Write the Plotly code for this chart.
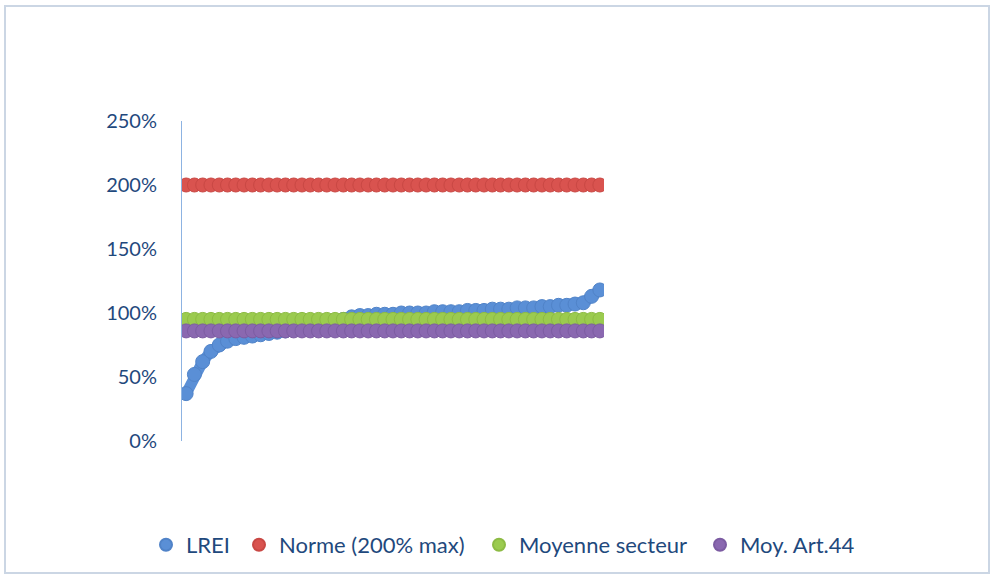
import plotly.graph_objects as go

# ---- data (values in %) ----
n_points = 51
categories = list(range(1, n_points + 1))
lrei = [37, 52, 62, 70, 75, 78, 80, 81, 82, 83,
        84, 85, 86, 87, 88, 89, 90, 92, 94, 95,
        97, 98, 98, 99, 99, 99, 100, 100, 100, 100,
        101, 101, 101, 101, 102, 102, 102, 103, 103, 103,
        104, 104, 104, 105, 105, 106, 106, 107, 108, 113, 118]
norme = [200] * n_points
moyenne_secteur = [95] * n_points
moy_art44 = [86] * n_points

series_names = ["LREI", "Norme (200% max)", "Moyenne secteur", "Moy. Art.44"]
series_values = [lrei, norme, moyenne_secteur, moy_art44]
series_colors = ["#5A8FD6", "#D9534F", "#9BCB4F", "#8A68B0"]
edge_colors = ["#5083C8", "#C94844", "#8DBB44", "#7C5CA2"]
legend_marker_px = [175, 268, 508, 729]
y_ticks = [0, 50, 100, 150, 200, 250]
y_tick_labels = [f"{v}%" for v in y_ticks]

W, H = 992, 576
L, R, T, B = 182, 388, 121, 135
pw, ph = W - L - R, H - T - B

fig = go.Figure()
legend_ids = ["legend", "legend2", "legend3", "legend4"]
for name, vals, col, ec, lid in zip(series_names, series_values, series_colors, edge_colors, legend_ids):
    # continuous band behind the markers
    fig.add_trace(go.Scatter(
        x=categories, y=vals, mode="lines", showlegend=False, hoverinfo="skip",
        line=dict(color=col, width=11),
    ))
    fig.add_trace(go.Scatter(
        x=categories, y=vals, mode="markers", name=name, legend=lid,
        marker=dict(size=14, color=col, line=dict(color=ec, width=1)),
    ))

def px_x(p):
    return (p - L) / pw

def px_y(p):
    return (H - B - p) / ph

legend_layout = {}
for lid, mx in zip(legend_ids, legend_marker_px):
    legend_layout[lid] = dict(
        orientation="h", xref="container", yref="container",
        x=(mx - 4 - 25) / W, y=1 - 545 / H, xanchor="left", yanchor="middle",
        font=dict(size=22, color="#1F497D", family="Lato"),
        itemsizing="constant", bgcolor="rgba(0,0,0,0)",
    )

fig.update_layout(
    width=W, height=H,
    margin=dict(l=L, r=R, t=T, b=B, autoexpand=False),
    paper_bgcolor="white", plot_bgcolor="white",
    font=dict(family="Lato", color="#1F497D"),
    showlegend=True,
    xaxis=dict(
        range=[0.5, n_points + 0.5], visible=False, showgrid=False, zeroline=False,
    ),
    yaxis=dict(
        range=[0, 250], tickvals=y_ticks, ticktext=y_tick_labels,
        showgrid=False, zeroline=False, showline=True, linecolor="#8DB3E2", linewidth=1,
        ticks="", ticklabelstandoff=20,
        tickfont=dict(size=20, color="#1F497D", family="Lato"),
    ),
    shapes=[dict(
        type="rect", xref="paper", yref="paper",
        x0=px_x(5), x1=px_x(989), y0=px_y(573), y1=px_y(6),
        line=dict(color="#CBD6E4", width=2), layer="below",
    )],
    **legend_layout,
)

fig.write_html("out.html")
